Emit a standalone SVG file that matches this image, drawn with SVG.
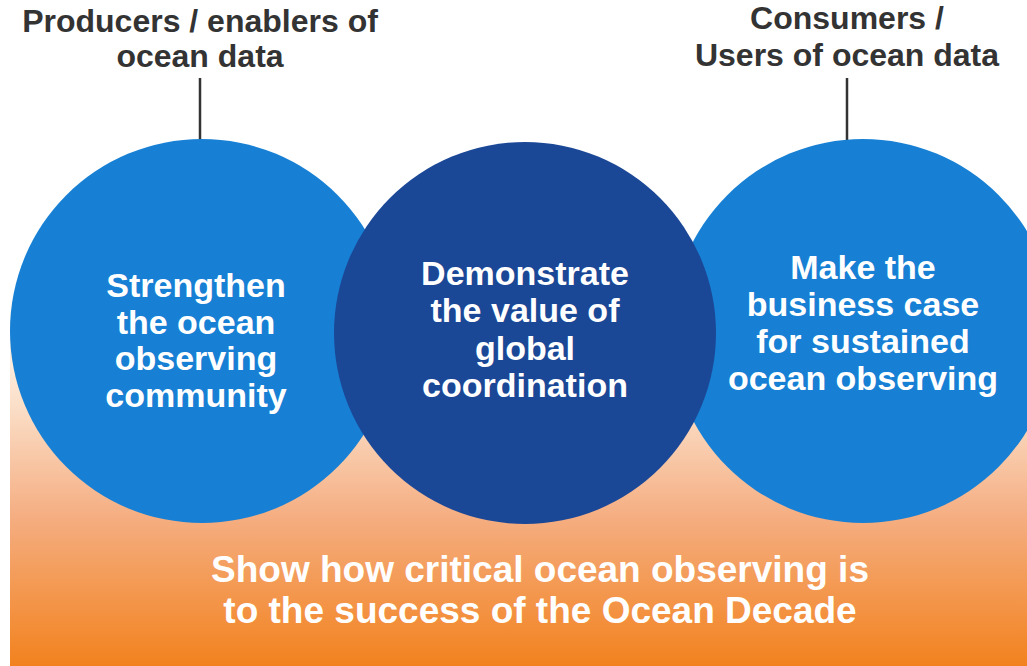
<svg xmlns="http://www.w3.org/2000/svg" width="1027" height="666" viewBox="0 0 1027 666">
<defs>
<linearGradient id="bg" x1="0" y1="0" x2="0" y2="1">
<stop offset="0" stop-color="#FFFFFF"/>
<stop offset="0.3" stop-color="#FBE0CA"/>
<stop offset="0.6" stop-color="#F5AE82"/>
<stop offset="1" stop-color="#F2821E"/>
</linearGradient>
<style>
.hdr{font-family:"Liberation Sans",Arial,sans-serif;font-weight:bold;font-size:32px;fill:#333333;text-anchor:middle}
.ct{font-family:"Liberation Sans",Arial,sans-serif;font-weight:bold;font-size:34px;fill:#FFFFFF;text-anchor:middle}
.bt{font-family:"Liberation Sans",Arial,sans-serif;font-weight:bold;font-size:37px;fill:#FFFFFF;text-anchor:middle}
.ln{stroke:#333333;stroke-width:2.5;fill:none}
</style>
</defs>
<rect x="0" y="0" width="1027" height="666" fill="#FFFFFF"/>
<rect id="band" x="10" y="290" width="1017" height="376" fill="url(#bg)"/>
<g id="connectors">
<line class="ln" x1="200" y1="78" x2="200" y2="141"/>
<line class="ln" x1="847" y1="78" x2="847" y2="141"/>
</g>
<g id="label-producers">
<text class="hdr" x="200" y="32">Producers / enablers of</text>
<text class="hdr" x="200" y="67">ocean data</text>
</g>
<g id="label-consumers">
<text class="hdr" x="847" y="29">Consumers /</text>
<text class="hdr" x="847" y="66">Users of ocean data</text>
</g>
<g id="circle-left">
<circle cx="202" cy="331" r="192" fill="#1780D4"/>
<text class="ct" x="196" y="297">Strengthen</text>
<text class="ct" x="196" y="334">the ocean</text>
<text class="ct" x="196" y="370">observing</text>
<text class="ct" x="196" y="407">community</text>
</g>
<g id="circle-right">
<circle cx="863" cy="331" r="192" fill="#1780D4"/>
<text class="ct" x="863" y="279">Make the</text>
<text class="ct" x="863" y="316">business case</text>
<text class="ct" x="863" y="353">for sustained</text>
<text class="ct" x="863" y="390">ocean observing</text>
</g>
<g id="circle-middle">
<circle cx="525" cy="333" r="191" fill="#1B4797"/>
<text class="ct" x="525" y="285">Demonstrate</text>
<text class="ct" x="525" y="322">the value of</text>
<text class="ct" x="525" y="360">global</text>
<text class="ct" x="525" y="397">coordination</text>
</g>
<g id="bottom-text">
<text class="bt" x="540" y="582">Show how critical ocean observing is</text>
<text class="bt" x="540" y="623">to the success of the Ocean Decade</text>
</g>
</svg>
